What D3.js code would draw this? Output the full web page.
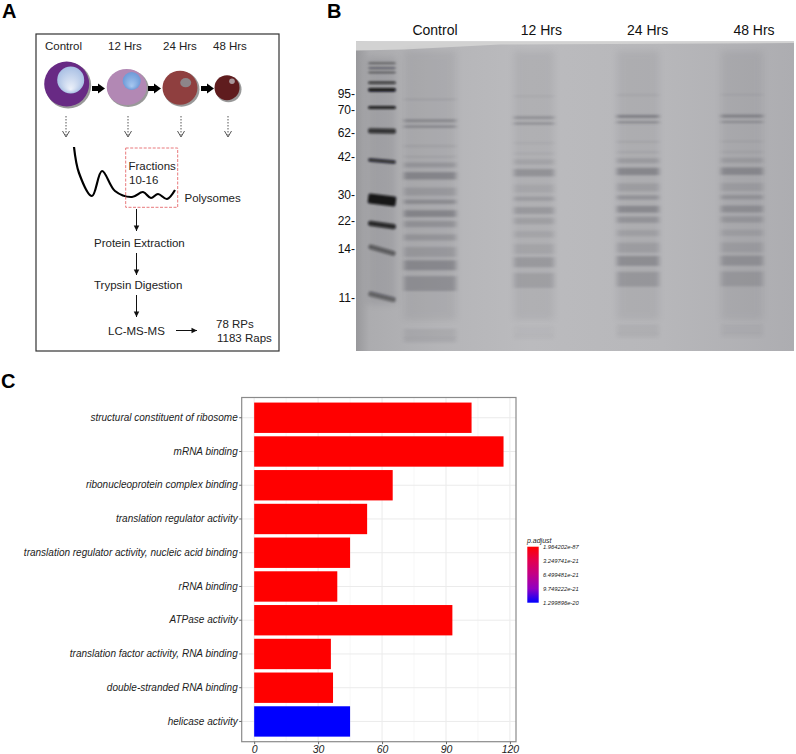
<!DOCTYPE html>
<html>
<head>
<meta charset="utf-8">
<script src="https://cdn.jsdelivr.net/npm/d3@7"></script>
<style>
	body { margin: 0; background: #fff; }
	text { font-family: "Liberation Sans", Arial, sans-serif; }
	.panel-letter { font-size: 20px; font-weight: bold; fill: #000; }
	.schema-text { font-size: 11.5px; fill: #222; }
	.gel-text { font-size: 14px; fill: #111; }
	.kda-text { font-size: 12px; fill: #111; text-anchor: end; }
	.axis text { font-style: italic; font-size: 10px; fill: #222; }
	.axis line { stroke: #666; }
	.axis path { display: none; }
</style>
</head>
<body>
<script>
// - data -

// panel C
var terms = [
	'structural constituent of ribosome',
	'mRNA binding',
	'ribonucleoprotein complex binding',
	'translation regulator activity',
	'translation regulator activity, nucleic acid binding',
	'rRNA binding',
	'ATPase activity',
	'translation factor activity, RNA binding',
	'double-stranded RNA binding',
	'helicase activity'
];
var counts = [102, 117, 65, 53, 45, 39, 93, 36, 37, 45];
var padj = [1.96e-87, 1e-40, 1e-30, 1e-30, 1e-28, 1e-30, 1e-40, 1e-28, 1e-27, 1.299896e-20];
var xTicks = [0, 30, 60, 90, 120];
var xMinorTicks = [15, 45, 75, 105];
var legendValues = [1.964202e-87, 3.249741e-21, 6.499481e-21, 9.749222e-21, 1.299896e-20];
var legendLabels = ['1.964202e-87', '3.249741e-21', '6.499481e-21', '9.749222e-21', '1.299896e-20'];

// panel B, gel read as % of the way down the gel
var lanes = ['Control', '12 Hrs', '24 Hrs', '48 Hrs'];
var kdaLabels = ['95-', '70-', '62-', '42-', '30-', '22-', '14-', '11-'];
var kdaMigration = [17, 22.1, 29.5, 37.2, 49.6, 58, 66.9, 82.9];
var ladderMigration = [7, 8.6, 10, 13.3, 15.6, 21.3, 28.9, 38.6, 51.2, 59.3, 67.4, 82.5];
var ladderStrength = [.55, .5, .6, .8, 1, .95, .8, .85, 1, .9, .5, .45];
var ladderSpread = [.25, .25, .25, .4, .6, .5, .8, .55, 1.6, .8, .8, .8];
var ladderTilt = [0, 0, 0, 0, 0, 0, 1, 5, 7, 8, 16, 14];
var bandMigration = [18.7, 25.6, 27.5, 33.8, 37.2, 39.9, 43.4, 48.5, 51.8, 55.6, 59, 63.3, 68, 72.3, 78.2, 94.4, 96.5];
var bandSpread = [.2, .5, .35, .2, .25, .8, 1.2, 1.3, .7, 1.1, 1, 1, 1.6, 1.6, 2.4, 1.6, .8];
var laneShift = [0, -1, -1.4, -1.5];
var bandControl = [.25, .55, .65, .3, .2, .35, .6, .3, .5, .6, .4, .35, .3, .55, .45, .15, .15];
var band12 = [.15, .45, .55, .18, .15, .2, .45, .15, .3, .35, .25, .18, .18, .35, .25, .05, .05];
var band24 = [.2, .7, .6, .25, .2, .3, .6, .25, .42, .55, .4, .22, .25, .5, .35, .12, .08];
var band48 = [.18, .65, .5, .2, .18, .25, .55, .22, .38, .45, .32, .2, .22, .42, .3, .1, .06];
var laneBands = [bandControl, band12, band24, band48];

// panel A
var timepoints = ['Control', '12 Hrs', '24 Hrs', '48 Hrs'];
var timepointLabelX = [45, 108, 163, 213];
var cellX = [66.7, 126.7, 180, 227];
var cellSize = [22.5, 20, 17.5, 12.5];
var polysomeX = [0, 5, 18, 28, 41, 58, 69, 77, 84, 93, 101];
var polysomeY = [0, 26, 49, 24, 44, 50, 45, 51, 47, 52, 43];

// - setup -

var width = 796;
var height = 754;

var svg = d3.select('body').append('svg')
	.attr('width', width)
	.attr('height', height)
	.style('display', 'block');

var defs = svg.append('defs');

function addBlur(id, sd) {
	defs.append('filter')
		.attr('id', id)
		.attr('x', '-30%').attr('y', '-400%')
		.attr('width', '160%').attr('height', '900%')
		.append('feGaussianBlur')
		.attr('stdDeviation', sd);
}
addBlur('blurBand', '2 1');
addBlur('blurLadder', '1.1 .9');
addBlur('blurSmear', '3.5 3');

function addGradient(id, c1, c2, fx, fy) {
	var g = defs.append('radialGradient')
		.attr('id', id)
		.attr('fx', fx).attr('fy', fy);
	g.append('stop').attr('offset', '0%').attr('stop-color', c1);
	g.append('stop').attr('offset', '100%').attr('stop-color', c2);
}
addGradient('nucleus0', '#eef2fa', '#a9c0e4', '50%', '85%');
addGradient('nucleus1', '#a8c8f0', '#6d9ad8', '50%', '80%');

var letters = [['A', 2, 18], ['B', 327, 18], ['C', 1, 388]];
svg.selectAll('.panel-letter')
	.data(letters).enter()
	.append('text')
	.attr('class', 'panel-letter')
	.attr('x', d => d[1])
	.attr('y', d => d[2])
	.text(d => d[0]);

// - panel A -

function drawArrow(x1, y1, x2, y2, head) {
	svg.append('line')
		.attr('x1', x1).attr('y1', y1)
		.attr('x2', x2).attr('y2', y2)
		.attr('stroke', '#111')
		.attr('stroke-width', 1);
	var dir = Math.atan2(y2 - y1, x2 - x1);
	var pts = [[0, 0], [-head, -head / 2], [-head, head / 2]].map(p => [
		x2 + p[0] * Math.cos(dir) - p[1] * Math.sin(dir),
		y2 + p[0] * Math.sin(dir) + p[1] * Math.cos(dir)
	]);
	svg.append('polygon').attr('points', pts.join(' ')).attr('fill', '#111');
}

function drawSchema() {
	svg.append('rect')
		.attr('x', 36).attr('y', 34)
		.attr('width', 243).attr('height', 317)
		.attr('fill', '#fff')
		.attr('stroke', '#333')
		.attr('stroke-width', 1.2);

	svg.selectAll('.tp-label')
		.data(timepoints).enter()
		.append('text')
		.attr('class', 'tp-label schema-text')
		.attr('x', (d, i) => timepointLabelX[i])
		.attr('y', 50)
		.text(d => d);

	var cellFill = ['#682a84', '#b288b4', '#8f3f3f', '#5f1c1e'];
	var nucleusFill = ['url(#nucleus0)', 'url(#nucleus1)', '#8d8589', '#a8979b'];
	var nucleusDx = [4, 5, 5.7, 5];
	var nucleusDy = [-4, -6, -5, -6.5];
	var nucleusR = [13.5, 9, 5.5, 2.8];
	var cellY = [84, 87, 87.7, 87.7];
	var squash = [1, .9, .97, 1];

	// shadow, body, nucleus
	cellX.forEach(function(cx, i) {
		svg.append('ellipse')
			.attr('cx', cx + 1.5).attr('cy', cellY[i] + 1.5)
			.attr('rx', cellSize[i] + .5).attr('ry', cellSize[i] * squash[i] + .5)
			.attr('fill', '#999');
		svg.append('ellipse')
			.attr('cx', cx).attr('cy', cellY[i])
			.attr('rx', cellSize[i]).attr('ry', cellSize[i] * squash[i])
			.attr('fill', cellFill[i]);
		svg.append('ellipse')
			.attr('cx', cx + nucleusDx[i]).attr('cy', cellY[i] + nucleusDy[i])
			.attr('rx', nucleusR[i]).attr('ry', nucleusR[i] * (i == 2 ? .85 : 1))
			.attr('fill', nucleusFill[i]);

		// dotted arrow below each cell
		var ax = [66, 128, 181, 228][i];
		svg.append('line')
			.attr('x1', ax).attr('y1', 116)
			.attr('x2', ax).attr('y2', 136)
			.attr('stroke', '#555')
			.attr('stroke-dasharray', '1.5 1.5');
		svg.append('path')
			.attr('d', 'M' + (ax - 3.5) + ',131L' + ax + ',137L' + (ax + 3.5) + ',131')
			.attr('fill', 'none')
			.attr('stroke', '#555');
	});

	// thick arrows between cells
	[92, 148, 201].forEach(function(x) {
		svg.append('line')
			.attr('x1', x).attr('y1', 88.5)
			.attr('x2', x + 6).attr('y2', 88.5)
			.attr('stroke', '#000')
			.attr('stroke-width', 5);
		svg.append('path')
			.attr('d', 'M' + (x + 6) + ',83.5L' + (x + 13) + ',88.5L' + (x + 6) + ',93.5Z')
			.attr('fill', '#000');
	});

	// polysome trace
	var px = d3.scaleLinear().domain([0, 101]).range([74, 175]);
	var py = d3.scaleLinear().domain([0, 52]).range([147, 199]);
	var line = d3.line()
		.x(d => px(d[0]))
		.y(d => py(d[1]))
		.curve(d3.curveCatmullRom);
	svg.append('path')
		.datum(polysomeX.map((x, i) => [x, polysomeY[i]]))
		.attr('d', line)
		.attr('fill', 'none')
		.attr('stroke', '#000')
		.attr('stroke-width', 2.2);

	svg.append('rect')
		.attr('x', 125.7).attr('y', 148)
		.attr('width', 52).attr('height', 59.3)
		.attr('fill', 'none')
		.attr('stroke', '#e8797c')
		.attr('stroke-width', 1)
		.attr('stroke-dasharray', '3 1.5');

	var labels = [
		['Fractions', 128.5, 170], ['10-16', 129, 184], ['Polysomes', 184.5, 201.5],
		['Protein Extraction', 94, 247], ['Trypsin Digestion', 94, 289],
		['LC-MS-MS', 108, 335], ['78 RPs', 216, 328], ['1183 Raps', 217, 342]
	];
	svg.selectAll('.schema-label')
		.data(labels).enter()
		.append('text')
		.attr('class', 'schema-label schema-text')
		.attr('x', d => d[1])
		.attr('y', d => d[2])
		.text(d => d[0]);

	drawArrow(136.5, 209, 136.5, 231, 5.5);
	drawArrow(136.5, 253, 136.5, 275, 5.5);
	drawArrow(136.5, 295, 136.5, 317, 5.5);
	drawArrow(176, 330.5, 197, 330.5, 5.5);
}

// - panel B -

function drawGel() {
	var gelLeft = 356, gelRight = 794, gelTop = 41.5, gelBottom = 351;

	var gelY = d3.scaleLinear().domain([0, 100]).range([gelTop, gelBottom]);
	var laneX = d3.scalePoint().domain(lanes).range([430, 742]);
	var labelX = d3.scalePoint().domain(lanes).range([435, 754]);
	var strength = d3.scaleLinear().domain([0, 1]).range([0, .62]);
	var laneWidth = [52, 40, 42, 42];

	var bg = defs.append('linearGradient').attr('id', 'gelBg');
	[[0, '#98989b'], [.03, '#acacaf'], [.2, '#b5b5b8'], [.4, '#bbbbbe'], [.7, '#b7b7ba'], [1, '#adadb1']]
		.forEach(s => bg.append('stop').attr('offset', s[0]).attr('stop-color', s[1]));

	svg.append('rect')
		.attr('x', gelLeft).attr('y', gelTop)
		.attr('width', gelRight - gelLeft).attr('height', gelBottom - gelTop)
		.attr('fill', 'url(#gelBg)');

	// pale wedge along the top edge, deepest over the ladder
	svg.append('path')
		.attr('d', 'M' + gelLeft + ',' + gelTop + 'H' + gelRight + 'V' + (gelTop + 1.5)
			+ 'L500,' + (gelTop + 3) + 'L404,' + (gelTop + 8) + 'L' + gelLeft + ',' + (gelTop + 9) + 'Z')
		.attr('fill', '#d2d2d2');

	var clip = svg.append('g');

	// lane smear behind the bands
	lanes.forEach(function(lane, i) {
		clip.append('rect')
			.attr('x', laneX(lane) - laneWidth[i] / 2)
			.attr('y', gelY(3))
			.attr('width', laneWidth[i])
			.attr('height', gelY(90) - gelY(3))
			.attr('fill', '#55555c')
			.attr('opacity', .1)
			.attr('filter', 'url(#blurSmear)');
	});
	clip.append('rect')
		.attr('x', 367).attr('y', gelY(5))
		.attr('width', 29).attr('height', gelY(85) - gelY(5))
		.attr('fill', '#55555c')
		.attr('opacity', .15)
		.attr('filter', 'url(#blurSmear)');

	// ladder
	clip.selectAll('.ladder')
		.data(ladderMigration).enter()
		.append('rect')
		.attr('class', 'ladder')
		.attr('x', 368)
		.attr('y', (d, i) => gelY(d - ladderSpread[i]))
		.attr('width', 28)
		.attr('height', (d, i) => gelY(2 * ladderSpread[i]) - gelY(0))
		.attr('rx', 2)
		.attr('fill', '#08080c')
		.attr('opacity', (d, i) => Math.min(1, 1.5 * strength(ladderStrength[i])))
		.attr('transform', (d, i) => 'rotate(' + ladderTilt[i] + ' 382 ' + gelY(d) + ')')
		.attr('filter', 'url(#blurLadder)');

	// sample lanes
	lanes.forEach(function(lane, i) {
		clip.selectAll('.band-' + i)
			.data(bandMigration).enter()
			.append('rect')
			.attr('class', 'band-' + i)
			.attr('x', laneX(lane) - laneWidth[i] / 2)
			.attr('y', (d, j) => gelY(d + laneShift[i] - bandSpread[j]))
			.attr('width', laneWidth[i])
			.attr('height', (d, j) => gelY(2 * bandSpread[j]) - gelY(0))
			.attr('fill', '#47474f')
			.attr('opacity', (d, j) => strength(laneBands[i][j]))
			.attr('filter', 'url(#blurBand)');
	});

	svg.selectAll('.lane-label')
		.data(lanes).enter()
		.append('text')
		.attr('class', 'lane-label gel-text')
		.attr('x', d => labelX(d))
		.attr('y', 35)
		.attr('text-anchor', 'middle')
		.text(d => d);

	svg.selectAll('.kda-text')
		.data(kdaLabels).enter()
		.append('text')
		.attr('class', 'kda-text')
		.attr('x', 355)
		.attr('y', (d, i) => gelY(kdaMigration[i]))
		.attr('dy', '.35em')
		.text(d => d);
}

// - panel C -

function drawBars() {
	var left = 241.7, right = 516, top = 397.5, bottom = 741.7;

	var x = d3.scaleLinear().domain([-5.85, 122.85]).range([left, right]);
	var y = d3.scaleBand().domain(terms).range([top, bottom]).paddingInner(.1).paddingOuter(.15);
	var color = d3.scaleLinear()
		.domain([0, 1.299896e-20])
		.range(['#ff0000', '#0000ff'])
		.interpolate(d3.interpolateLab);

	var grid = svg.append('g');
	grid.selectAll('.minor')
		.data(xMinorTicks).enter()
		.append('line')
		.attr('x1', d => x(d)).attr('x2', d => x(d))
		.attr('y1', top).attr('y2', bottom)
		.attr('stroke', '#f2f2f2')
		.attr('stroke-width', .6);
	grid.selectAll('.major')
		.data(xTicks).enter()
		.append('line')
		.attr('x1', d => x(d)).attr('x2', d => x(d))
		.attr('y1', top).attr('y2', bottom)
		.attr('stroke', '#ebebeb')
		.attr('stroke-width', 1);
	grid.selectAll('.hline')
		.data(terms).enter()
		.append('line')
		.attr('x1', left).attr('x2', right)
		.attr('y1', d => y(d) + y.bandwidth() / 2)
		.attr('y2', d => y(d) + y.bandwidth() / 2)
		.attr('stroke', '#ebebeb');

	svg.selectAll('.bar')
		.data(terms).enter()
		.append('rect')
		.attr('class', 'bar')
		.attr('x', x(0))
		.attr('y', d => y(d))
		.attr('width', (d, i) => x(counts[i]) - x(0))
		.attr('height', y.bandwidth())
		.attr('fill', (d, i) => color(padj[i]));

	svg.append('rect')
		.attr('x', left).attr('y', top)
		.attr('width', right - left).attr('height', bottom - top)
		.attr('fill', 'none')
		.attr('stroke', '#8a8a8a')
		.attr('stroke-width', 1.2);

	svg.append('g')
		.attr('class', 'axis')
		.attr('transform', 'translate(' + left + ',0)')
		.call(d3.axisLeft(y).tickSize(2.5).tickPadding(1.5));

	var xAxis = svg.append('g')
		.attr('class', 'axis')
		.attr('transform', 'translate(0,' + bottom + ')')
		.call(d3.axisBottom(x).tickValues(xTicks).tickSize(2.5).tickPadding(1));
	xAxis.selectAll('text').style('font-size', '10.5px');

	// legend
	var legendY = d3.scaleLinear()
		.domain([legendValues[0], legendValues[4]])
		.range([546.7, 602.7]);
	var grad = defs.append('linearGradient')
		.attr('id', 'legendGrad')
		.attr('x1', 0).attr('x2', 0).attr('y1', 0).attr('y2', 1);
	d3.range(0, 1.01, .25).forEach(function(t) {
		grad.append('stop')
			.attr('offset', (t * 100) + '%')
			.attr('stop-color', color(t * 1.299896e-20));
	});

	svg.append('rect')
		.attr('x', 527.3).attr('y', 546.7)
		.attr('width', 11.4).attr('height', 56)
		.attr('fill', 'url(#legendGrad)');

	svg.append('text')
		.attr('x', 527).attr('y', 543)
		.style('font-size', '7px')
		.style('font-style', 'italic')
		.attr('fill', '#222')
		.text('p.adjust');

	svg.selectAll('.legend-label')
		.data(legendLabels).enter()
		.append('text')
		.attr('class', 'legend-label')
		.attr('x', 543)
		.attr('y', (d, i) => legendY(legendValues[i]))
		.attr('dy', '.35em')
		.style('font-size', '5.8px')
		.style('font-style', 'italic')
		.attr('fill', '#222')
		.text(d => d);
}

// - main -

drawSchema();
drawGel();
drawBars();
</script>
</body>
</html>
